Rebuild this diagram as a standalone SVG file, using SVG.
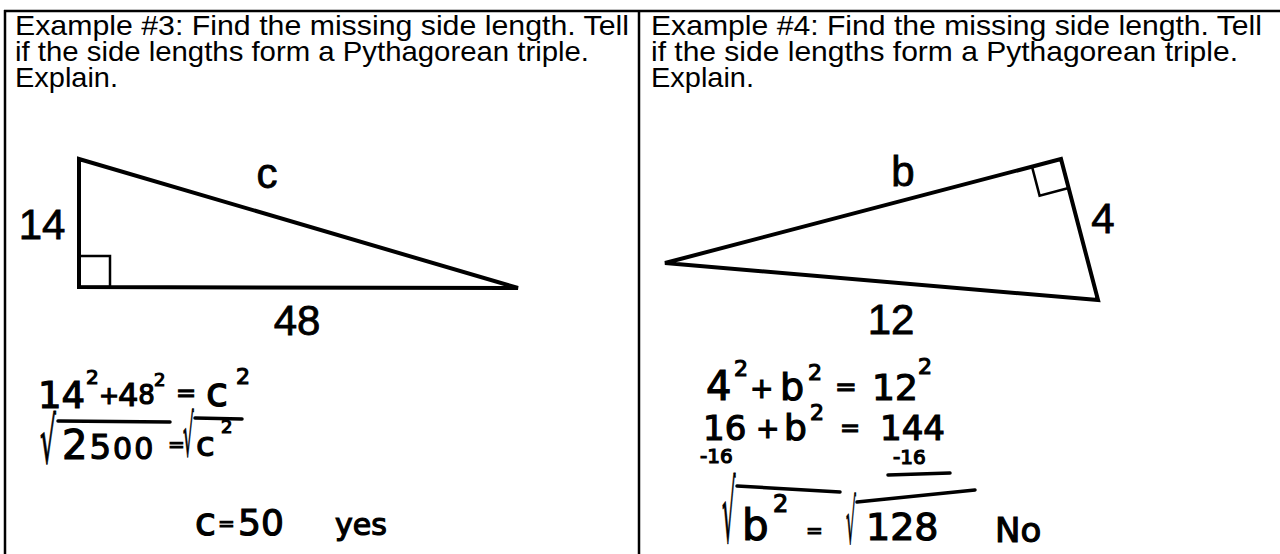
<svg xmlns="http://www.w3.org/2000/svg" width="1280" height="554" viewBox="0 0 1280 554">
<style>
.frame{stroke:#000;stroke-width:2.5;fill:none}
.tri{stroke:#000;stroke-width:4;fill:none;stroke-linejoin:miter}
.sq{stroke:#000;stroke-width:2.5;fill:none}
.title{font-family:"Liberation Sans",Arial,sans-serif;font-size:28.5px;fill:#000}
.lbl{font-family:"Liberation Sans",Arial,sans-serif;font-size:42px;fill:#000;stroke:#000;stroke-width:0.8}
.hw{font-family:"DejaVu Sans",sans-serif;fill:#000;stroke:#000;stroke-width:1.2}
.hwl{stroke:#000;stroke-width:3.5;fill:none;stroke-linecap:round}
</style>
<rect width="1280" height="554" fill="#fff"/>
<g id="frame">
<line class="frame" x1="4" y1="11" x2="1280" y2="11"/>
<line class="frame" x1="5" y1="10" x2="5" y2="554"/>
<line class="frame" x1="639" y1="11" x2="639" y2="554"/>
</g>
<g id="example3-title">
<text class="title" x="15" y="35" textLength="614" lengthAdjust="spacingAndGlyphs">Example #3: Find the missing side length. Tell</text>
<text class="title" x="15" y="61" textLength="574" lengthAdjust="spacingAndGlyphs">if the side lengths form a Pythagorean triple.</text>
<text class="title" x="15" y="87" textLength="103" lengthAdjust="spacingAndGlyphs">Explain.</text>
</g>
<g id="example4-title">
<text class="title" x="651" y="35" textLength="611" lengthAdjust="spacingAndGlyphs">Example #4: Find the missing side length. Tell</text>
<text class="title" x="651" y="61" textLength="587" lengthAdjust="spacingAndGlyphs">if the side lengths form a Pythagorean triple.</text>
<text class="title" x="651" y="87" textLength="103" lengthAdjust="spacingAndGlyphs">Explain.</text>
</g>
<g id="triangle3">
<polygon class="tri" points="79,159 79,287 518,288"/>
<rect class="sq" x="79" y="256" width="31" height="31"/>
<text class="lbl" x="42" y="239" text-anchor="middle">14</text>
<text class="lbl" x="297" y="335" text-anchor="middle">48</text>
<text class="lbl" x="267" y="188" text-anchor="middle" font-size="36" stroke-width="1.6">c</text>
</g>
<g id="triangle4">
<polygon class="tri" points="665,263 1061,159 1098,300"/>
<polyline class="sq" points="1032,166.6 1039.6,195.6 1068.6,188"/>
<text class="lbl" x="903" y="186" text-anchor="middle" font-size="38" stroke-width="1.4">b</text>
<text class="lbl" x="1103" y="233" text-anchor="middle">4</text>
<text class="lbl" x="891" y="334" text-anchor="middle">12</text>
</g>
<g id="work3">
<text class="hw" x="38" y="408" font-size="37">14</text>
<text class="hw" x="86" y="384" font-size="20">2</text>
<text class="hw" x="99" y="404" font-size="24">+</text>
<text class="hw" x="118" y="406" font-size="32">4<tspan font-size="26" dy="-2">8</tspan></text>
<text class="hw" x="154" y="386" font-size="18">2</text>
<text class="hw" x="176" y="401" font-size="24">=</text>
<text class="hw" x="206" y="406" font-size="40">c</text>
<text class="hw" x="236" y="384" font-size="22">2</text>
<text class="hw" font-size="64" transform="translate(40,463) scale(0.39,1)">√</text>
<line class="hwl" x1="58" y1="421" x2="170" y2="422"/>
<text class="hw" x="62" y="459" font-size="40" letter-spacing="2">2<tspan font-size="34">5</tspan><tspan font-size="30">00</tspan></text>
<text class="hw" x="168" y="451" font-size="20">=</text>
<text class="hw" font-size="58" transform="translate(183,456) scale(0.29,1)">√</text>
<line class="hwl" x1="195" y1="418" x2="242" y2="419"/>
<text class="hw" x="196" y="456" font-size="34">c</text>
<text class="hw" x="221" y="433" font-size="18">2</text>
<text class="hw" x="195" y="535" font-size="38">c</text>
<text class="hw" x="218" y="530" font-size="20">=</text>
<text class="hw" x="238" y="535" font-size="36">50</text>
<text class="hw" x="335" y="535" font-size="30">yes</text>
</g>
<g id="work4">
<text class="hw" x="706" y="400" font-size="40">4</text>
<text class="hw" x="734" y="376" font-size="22">2</text>
<text class="hw" x="750" y="398" font-size="28">+</text>
<text class="hw" x="780" y="400" font-size="38">b</text>
<text class="hw" x="808" y="380" font-size="22">2</text>
<text class="hw" x="835" y="396" font-size="26">=</text>
<text class="hw" x="872" y="400" font-size="36">12</text>
<text class="hw" x="918" y="374" font-size="22">2</text>
<text class="hw" x="703" y="440" font-size="34">16</text>
<text class="hw" x="756" y="438" font-size="28">+</text>
<text class="hw" x="784" y="440" font-size="36">b</text>
<text class="hw" x="810" y="420" font-size="22">2</text>
<text class="hw" x="840" y="436" font-size="24">=</text>
<text class="hw" x="880" y="440" font-size="34">144</text>
<text class="hw" x="893" y="464" font-size="20">-16</text>
<line class="hwl" x1="888" y1="475" x2="950" y2="473"/>
<text class="hw" x="700" y="463" font-size="20">-16</text>
<text class="hw" font-size="85" transform="translate(722,542) scale(0.25,1)">√</text>
<line class="hwl" x1="737" y1="486" x2="840" y2="492"/>
<text class="hw" x="742" y="540" font-size="42">b</text>
<text class="hw" x="773" y="512" font-size="24">2</text>
<text class="hw" x="806" y="537" font-size="20">=</text>
<text class="hw" font-size="62" transform="translate(846,543) scale(0.25,1)">√</text>
<line class="hwl" x1="857" y1="502" x2="975" y2="490"/>
<text class="hw" x="866" y="540" font-size="38">128</text>
<text class="hw" x="995" y="542" font-size="34">No</text>
</g>
</svg>
